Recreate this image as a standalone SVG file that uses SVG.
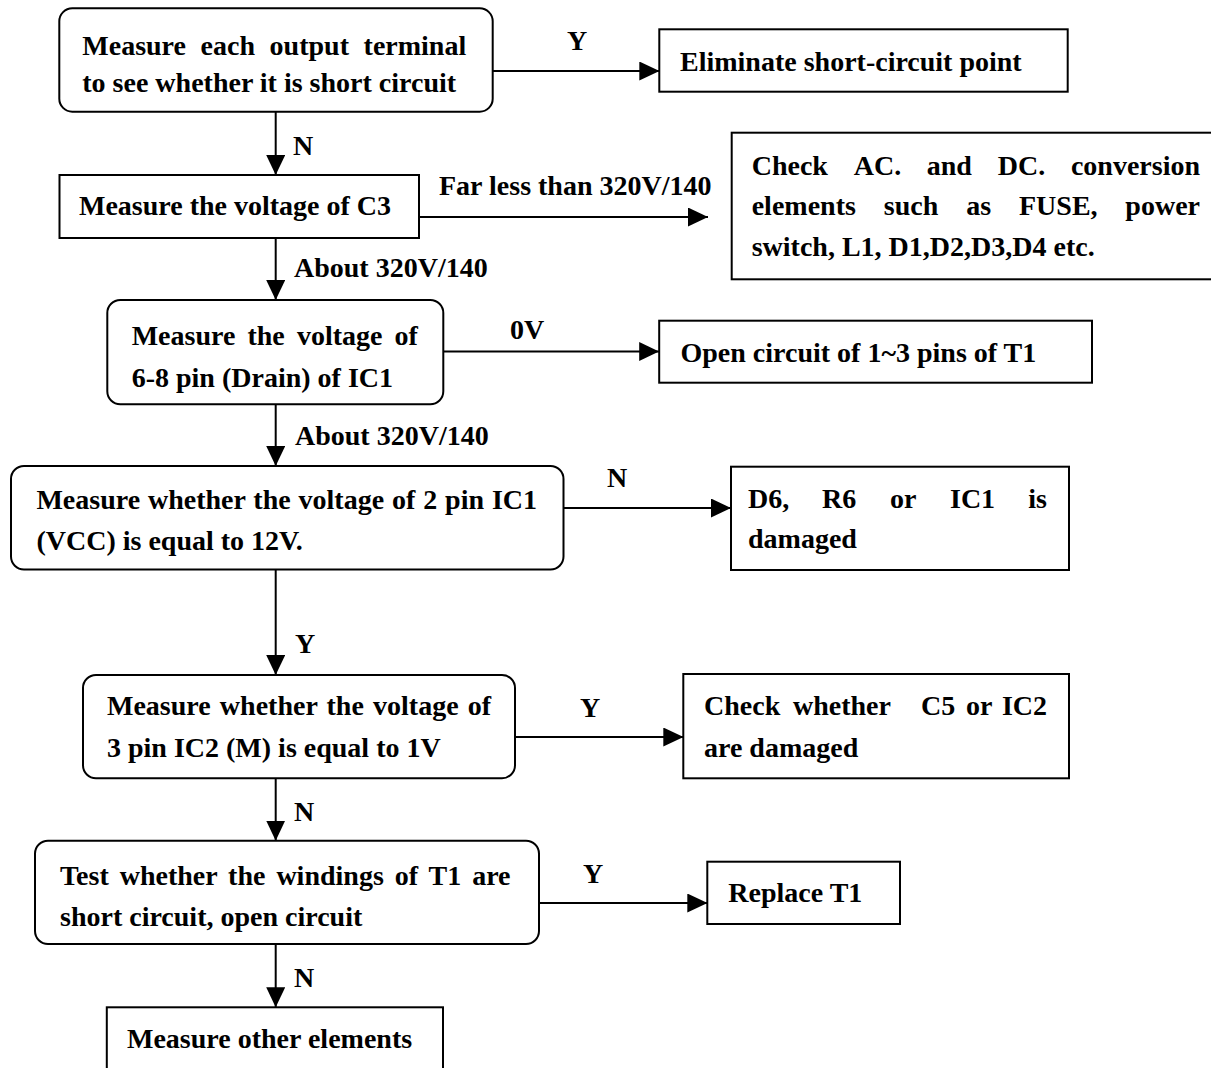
<svg xmlns="http://www.w3.org/2000/svg" width="1211" height="1068" viewBox="0 0 1211 1068">
  <style>
    .box { fill: #ffffff; stroke: #000000; stroke-width: 2; }
    .t { font-family: "Liberation Serif", "Times New Roman", serif; font-weight: bold; font-size: 28px; fill: #000000; }
    .edge { fill: none; stroke: #000000; stroke-width: 2; }
  </style>
  <defs>
    <marker id="arrow" markerUnits="userSpaceOnUse" markerWidth="20" markerHeight="20" refX="20" refY="9.5" orient="auto">
      <path d="M0,0 L20,9.5 L0,19 Z" fill="#000000"/>
    </marker>
  </defs>
  <rect width="1211" height="1068" fill="#ffffff"/>

  <!-- connectors -->
  <g id="connectors">
    <line class="edge" x1="492.7" y1="71" x2="659.3" y2="71" marker-end="url(#arrow)"/>
    <line class="edge" x1="275.7" y1="111.7" x2="275.7" y2="175" marker-end="url(#arrow)"/>
    <line class="edge" x1="419" y1="217" x2="708" y2="217" marker-end="url(#arrow)"/>
    <line class="edge" x1="275.7" y1="238" x2="275.7" y2="300" marker-end="url(#arrow)"/>
    <line class="edge" x1="443.3" y1="351.5" x2="659.2" y2="351.5" marker-end="url(#arrow)"/>
    <line class="edge" x1="275.7" y1="404.3" x2="275.7" y2="466" marker-end="url(#arrow)"/>
    <line class="edge" x1="563.5" y1="508" x2="731" y2="508" marker-end="url(#arrow)"/>
    <line class="edge" x1="275.7" y1="569.5" x2="275.7" y2="675" marker-end="url(#arrow)"/>
    <line class="edge" x1="515" y1="737" x2="683.3" y2="737" marker-end="url(#arrow)"/>
    <line class="edge" x1="275.7" y1="778.3" x2="275.7" y2="840.7" marker-end="url(#arrow)"/>
    <line class="edge" x1="539" y1="903" x2="707.3" y2="903" marker-end="url(#arrow)"/>
    <line class="edge" x1="275.7" y1="944" x2="275.7" y2="1007.3" marker-end="url(#arrow)"/>

    <text class="t" x="567" y="50">Y</text>
    <text class="t" x="293" y="155">N</text>
    <text class="t" x="439" y="195">Far less than 320V/140</text>
    <text class="t" x="294" y="277">About 320V/140</text>
    <text class="t" x="510" y="339">0V</text>
    <text class="t" x="295" y="445">About 320V/140</text>
    <text class="t" x="607" y="487">N</text>
    <text class="t" x="295" y="653">Y</text>
    <text class="t" x="580" y="716.7">Y</text>
    <text class="t" x="294" y="820.7">N</text>
    <text class="t" x="583" y="882.7">Y</text>
    <text class="t" x="294" y="986.7">N</text>
  </g>

  <!-- nodes -->
  <g id="n-short">
    <rect class="box" x="59.3" y="8.3" width="433.4" height="103.4" rx="13"/>
    <text class="t" x="82.3" y="55" word-spacing="7.6">Measure each output terminal</text>
    <text class="t" x="82.3" y="92">to see whether it is short circuit</text>
  </g>

  <g id="n-eliminate">
    <rect class="box" x="659.3" y="29.3" width="408.4" height="62.4"/>
    <text class="t" x="680" y="70.7">Eliminate short-circuit point</text>
  </g>

  <g id="n-c3">
    <rect class="box" x="59.5" y="175" width="359.5" height="63"/>
    <text class="t" x="79" y="215">Measure the voltage of C3</text>
  </g>

  <g id="n-acdc">
    <rect class="box" x="731.7" y="132.7" width="490" height="146.6"/>
    <text class="t" y="175">
      <tspan x="751.7">Check</tspan><tspan x="853.7">AC.</tspan><tspan x="926.8">and</tspan><tspan x="997.7">DC.</tspan><tspan x="1200" text-anchor="end">conversion</tspan>
    </text>
    <text class="t" y="215">
      <tspan x="751.7">elements</tspan><tspan x="883.8">such</tspan><tspan x="966.2">as</tspan><tspan x="1019">FUSE,</tspan><tspan x="1200" text-anchor="end">power</tspan>
    </text>
    <text class="t" x="751.7" y="255.5">switch, L1, D1,D2,D3,D4 etc.</text>
  </g>

  <g id="n-drain">
    <rect class="box" x="107.3" y="300" width="336" height="104.3" rx="13"/>
    <text class="t" x="131.7" y="345" word-spacing="5.1">Measure the voltage of</text>
    <text class="t" x="131.7" y="387">6-8 pin (Drain) of IC1</text>
  </g>

  <g id="n-open">
    <rect class="box" x="659.2" y="320.7" width="432.8" height="62"/>
    <text class="t" x="680.5" y="361.7">Open circuit of 1~3 pins of T1</text>
  </g>

  <g id="n-vcc">
    <rect class="box" x="11" y="466" width="552.5" height="103.5" rx="13"/>
    <text class="t" x="36.4" y="509" word-spacing="0.9">Measure whether the voltage of 2 pin IC1</text>
    <text class="t" x="36.4" y="550">(VCC) is equal to 12V.</text>
  </g>

  <g id="n-d6">
    <rect class="box" x="731" y="466.7" width="338" height="103.3"/>
    <text class="t" y="508.3">
      <tspan x="748">D6,</tspan><tspan x="822">R6</tspan><tspan x="890">or</tspan><tspan x="950">IC1</tspan><tspan x="1047" text-anchor="end">is</tspan>
    </text>
    <text class="t" x="748" y="548">damaged</text>
  </g>

  <g id="n-ic2">
    <rect class="box" x="83" y="675" width="432" height="103.3" rx="13"/>
    <text class="t" x="107" y="715" word-spacing="2.2">Measure whether the voltage of</text>
    <text class="t" x="107" y="757">3 pin IC2 (M) is equal to 1V</text>
  </g>

  <g id="n-c5">
    <rect class="box" x="683.3" y="674" width="385.7" height="104.3"/>
    <text class="t" y="715">
      <tspan x="704">Check</tspan><tspan x="793">whether</tspan><tspan x="921">C5</tspan><tspan x="966">or</tspan><tspan x="1047" text-anchor="end">IC2</tspan>
    </text>
    <text class="t" x="704" y="756.7">are damaged</text>
  </g>

  <g id="n-windings">
    <rect class="box" x="35" y="840.7" width="504" height="103.3" rx="13"/>
    <text class="t" x="60" y="885" word-spacing="3.95">Test whether the windings of T1 are</text>
    <text class="t" x="60" y="926">short circuit, open circuit</text>
  </g>

  <g id="n-replace">
    <rect class="box" x="707.3" y="861.7" width="192.7" height="62.3"/>
    <text class="t" x="728.3" y="901.7">Replace T1</text>
  </g>

  <g id="n-other">
    <rect class="box" x="106.8" y="1007.3" width="336.2" height="80"/>
    <text class="t" x="127" y="1048.3">Measure other elements</text>
  </g>
</svg>
